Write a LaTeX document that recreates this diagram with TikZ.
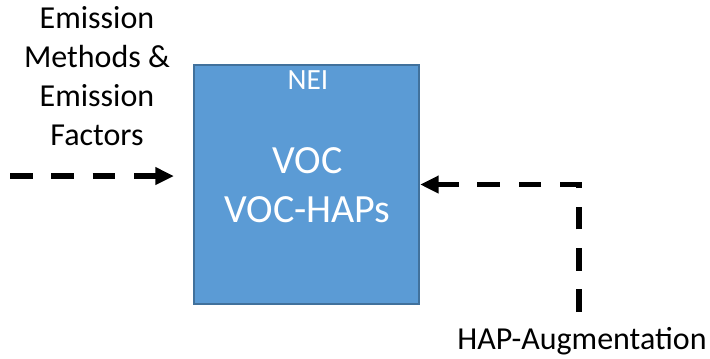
\documentclass[tikz,border=0pt]{standalone}
\usepackage{fontspec}
\setmainfont{Carlito}
\usetikzlibrary{arrows.meta}
\definecolor{neiblue}{HTML}{5B9BD5}
\definecolor{neiborder}{HTML}{41719C}

\begin{document}
\begin{tikzpicture}[x=0.75pt, y=-0.75pt,
    flow/.style = {black, line width=4.2pt, dash pattern=on 17pt off 14pt,
                -{Triangle[length=14pt, width=12.5pt]}},
    inbox/.style = {color=white, inner sep=0pt, anchor=base},
    outtext/.style = {color=black, inner sep=0pt, anchor=base, align=center,
                font=\fontsize{24}{29.25}\selectfont}
                    ]
    \useasboundingbox (0,0) rectangle (710,358);
    \def\bx{306.5}
    \def\by{184.5}
    % the inventory box
    \node[fill=neiblue, draw=neiborder, line width=1.5pt, inner sep=0pt,
          minimum width=168.75pt, minimum height=179.25pt] at (\bx,\by) (nei) {};
    \node[inbox, font=\fontsize{22}{26}\selectfont] at (\bx+1.5,89) (title) {NEI};
    \node[inbox, font=\fontsize{30}{36}\selectfont] at (\bx+1,173) (voc) {VOC};
    \node[inbox, font=\fontsize{30}{36}\selectfont] at (\bx+1,222) (vochap) {VOC-HAPs};
    % outside labels (base = last line)
    \node[outtext] at (97,145) (methods) {Emission\\Methods \&\\Emission\\Factors};
    \node[outtext] at (582,349) (aug) {HAP-Augmentation};
    % dashed connectors
    \coordinate (src) at (10,176);
    \coordinate (dst) at (174,176);
    \coordinate (augstart) at (579,312);
    \draw[flow] (src) -- (dst);
    \draw[flow] (augstart) |- (nei.east);
\end{tikzpicture}
\end{document}
